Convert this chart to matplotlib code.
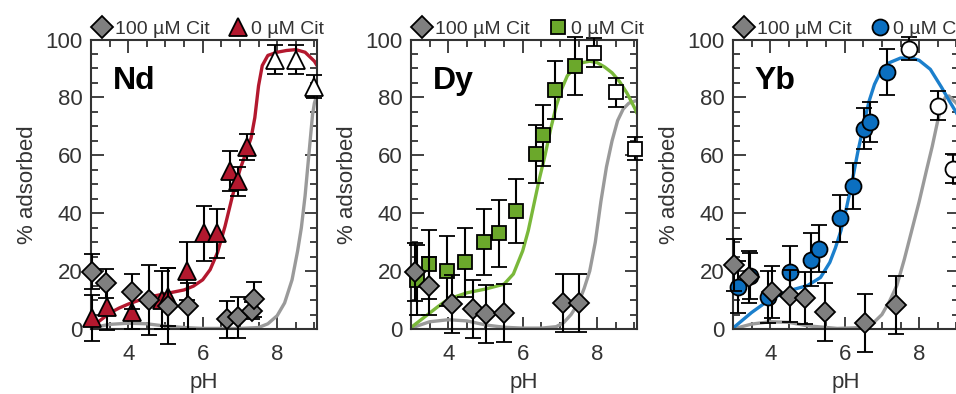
import matplotlib
matplotlib.use("Agg")
import matplotlib.pyplot as plt
from matplotlib.lines import Line2D
from matplotlib.ticker import MultipleLocator, FixedLocator

plt.rcParams['font.family'] = ['Liberation Sans', 'DejaVu Sans']

# ---------------- data ----------------
# Nd
nd_ph = [3.03, 3.42, 4.09, 4.92, 5.08, 5.57, 6.03, 6.38, 6.72, 6.94, 7.19]
nd_v = [3.7, 7.5, 6.0, 10.0, 11.1, 20.1, 33.0, 33.0, 54.6, 51.0, 63.0]
nd_err = [8, 8, 6, 10, 10, 10, 9.5, 8.6, 7, 5, 4.5]
nd_open_ph = [7.95, 8.5, 8.99]
nd_open_v = [93.0, 93.0, 83.7]
nd_open_err = [5, 5, 4]
nd_cit_ph = [3.02, 3.4, 4.09, 4.57, 5.06, 5.6, 6.65, 6.96, 7.32, 7.37]
nd_cit_v = [19.8, 15.8, 12.9, 10.0, 7.9, 7.9, 3.3, 4.0, 6.3, 10.3]
nd_cit_err = [6, 5, 6, 12, 13, 8, 6.5, 7, 3, 6]
nd_fit_ph = [3.0, 3.25, 3.5, 3.75, 4.0, 4.5, 5.0, 5.5, 5.75, 6.0, 6.2, 6.4, 6.6, 6.8, 7.0,
             7.15, 7.3, 7.4, 7.5, 7.6, 7.75, 8.0, 8.25, 8.5, 8.75, 9.0, 9.07]
nd_fit_v = [0.5, 3.0, 5.5, 7.2, 8.6, 10.9, 12.2, 13.5, 14.8, 17.0, 20.5, 26.5, 35.5, 46.0, 55.0,
            60.5, 66.0, 73.0, 84.0, 91.0, 94.5, 95.6, 96.2, 96.5, 95.6, 92.5, 91.0]
nd_cfit_ph = [3.0, 3.25, 3.5, 4.0, 4.5, 5.0, 5.5, 6.0, 7.0, 7.5, 7.75, 8.0, 8.2, 8.4, 8.55,
              8.65, 8.75, 8.85, 8.95, 9.0, 9.07]
nd_cfit_v = [0.0, 1.0, 1.6, 2.0, 1.8, 1.0, 0.5, 0.2, 0.2, 0.5, 1.8, 4.6, 9.0, 17.0, 27.0,
             35.0, 46.0, 60.0, 74.0, 78.0, 81.0]

# Dy
dy_ph = [3.17, 3.48, 3.98, 4.45, 4.97, 5.36, 5.81, 6.36, 6.54, 6.88, 7.4]
dy_v = [16.9, 22.3, 20.0, 23.0, 30.1, 33.0, 40.8, 60.6, 66.9, 82.6, 90.7]
dy_err = [12, 12, 12, 12, 11.5, 11.5, 11, 10, 10.5, 10, 10]
dy_open_ph = [7.92, 8.5, 9.01]
dy_open_v = [95.4, 81.8, 62.3]
dy_open_err = [5, 5, 4]
dy_cit_ph = [3.12, 3.48, 4.09, 4.66, 5.02, 5.51, 7.08, 7.52]
dy_cit_v = [19.8, 14.8, 8.6, 6.8, 5.1, 5.4, 8.9, 8.9]
dy_cit_err = [10, 10, 10, 10, 10, 10, 10, 10]
dy_fit_ph = [3.0, 3.25, 3.5, 3.75, 4.0, 4.5, 5.0, 5.5, 5.75, 6.0, 6.15, 6.3, 6.45, 6.6, 6.75,
             6.9, 7.05, 7.2, 7.4, 7.6, 7.8, 8.0, 8.2, 8.4, 8.6, 8.8, 9.0, 9.07]
dy_fit_v = [0.5, 3.0, 5.5, 8.0, 10.3, 12.5, 13.8, 15.5, 19.0, 27.0, 34.0, 43.0, 52.0, 60.0, 69.0,
            77.0, 83.0, 87.5, 90.3, 92.0, 92.5, 92.0, 90.5, 88.5, 85.5, 81.5, 76.5, 74.5]
dy_cfit_ph = [3.0, 3.5, 4.0, 4.5, 5.0, 5.5, 6.0, 6.5, 6.9, 7.1, 7.3, 7.5, 7.65, 7.8, 7.95,
              8.1, 8.25, 8.4, 8.55, 8.7, 8.85, 9.07]
dy_cfit_v = [0.3, 2.5, 3.2, 2.8, 1.4, 0.6, 0.3, 0.3, 0.8, 2.2, 5.0, 9.0, 14.0, 20.0, 30.0,
             44.0, 56.0, 65.0, 72.0, 76.0, 78.0, 79.0]

# Yb
yb_ph = [3.13, 3.46, 3.95, 4.54, 5.1, 5.32, 5.88, 6.22, 6.53, 6.69, 7.13]
yb_v = [14.4, 18.3, 11.1, 19.8, 24.0, 27.8, 38.2, 49.3, 69.2, 71.5, 88.7]
yb_err = [9, 8, 9, 9, 9, 8, 8, 8, 7, 7, 8]
yb_open_ph = [7.73, 8.5, 8.9]
yb_open_v = [96.8, 77.2, 55.4]
yb_open_err = [4, 5, 5]
yb_cit_ph = [3.02, 3.42, 4.05, 4.54, 4.94, 5.46, 6.55, 7.38]
yb_cit_v = [22.0, 18.0, 12.9, 11.4, 10.8, 6.0, 2.2, 8.3]
yb_cit_err = [9, 9, 9, 9, 9, 10, 10, 10]
yb_fit_ph = [3.0, 3.25, 3.5, 4.0, 4.5, 5.0, 5.35, 5.6, 5.75, 5.9, 6.05, 6.2, 6.35, 6.5, 6.65,
             6.8, 6.95, 7.2, 7.5, 7.8, 8.0, 8.3, 8.6, 8.8, 9.0, 9.1]
yb_fit_v = [0.3, 3.0, 5.7, 10.3, 13.2, 15.0, 17.8, 23.0, 28.0, 34.0, 42.0, 51.0, 61.0, 70.0, 78.5,
            84.5, 88.5, 92.0, 93.6, 93.6, 92.8, 89.7, 83.5, 79.0, 74.7, 72.0]
yb_cfit_ph = [3.0, 3.5, 4.0, 4.5, 5.0, 5.8, 6.5, 6.8, 7.0, 7.2, 7.4, 7.6, 7.8, 8.0, 8.2,
              8.35, 8.5, 8.6, 8.7, 8.8, 9.0, 9.1]
yb_cfit_v = [0.0, 1.7, 2.5, 2.3, 1.1, 0.2, 0.5, 2.5, 5.0, 9.5, 15.0, 24.0, 34.0, 44.0, 55.0,
             63.0, 72.0, 77.0, 80.0, 80.5, 78.0, 76.0]

panels = [
    dict(name='Nd', color='#B3182E', mcolor='#B3182E', marker='^', ms=13,
         ph=nd_ph, v=nd_v, err=nd_err, oph=nd_open_ph, ov=nd_open_v, oerr=nd_open_err,
         cph=nd_cit_ph, cv=nd_cit_v, cerr=nd_cit_err,
         fph=nd_fit_ph, fv=nd_fit_v, cfph=nd_cfit_ph, cfv=nd_cfit_v, left=91),
    dict(name='Dy', color='#7AB83A', mcolor='#6BA82B', marker='s', ms=10,
         ph=dy_ph, v=dy_v, err=dy_err, oph=dy_open_ph, ov=dy_open_v, oerr=dy_open_err,
         cph=dy_cit_ph, cv=dy_cit_v, cerr=dy_cit_err,
         fph=dy_fit_ph, fv=dy_fit_v, cfph=dy_cfit_ph, cfv=dy_cfit_v, left=411),
    dict(name='Yb', color='#1B7FCC', mcolor='#0B6FC0', marker='o', ms=11.5,
         ph=yb_ph, v=yb_v, err=yb_err, oph=yb_open_ph, ov=yb_open_v, oerr=yb_open_err,
         cph=yb_cit_ph, cv=yb_cit_v, cerr=yb_cit_err,
         fph=yb_fit_ph, fv=yb_fit_v, cfph=yb_cfit_ph, cfv=yb_cfit_v, left=733),
]

W, H = 956, 394
fig = plt.figure(figsize=(W / 100, H / 100), dpi=100)
spine_c = '#333333'
txt_c = '#333333'
grey_m = '#7F7F7F'
grey_l = '#9A9A9A'

for p in panels:
    ax = fig.add_axes([p['left'] / W, (H - 329) / H, 226 / W, 289.5 / H])
    ax.set_xlim(3, 9.07)
    ax.set_ylim(0, 100)
    # curves
    ax.plot(p['cfph'], p['cfv'], color=grey_l, lw=2.4, zorder=2, solid_capstyle='round')
    ax.plot(p['fph'], p['fv'], color=p['color'], lw=2.4, zorder=2, solid_capstyle='round')
    ekw = dict(ecolor='black', elinewidth=1.5, capsize=5.5, capthick=1.5, mec='black', mew=1.3,
               linestyle='none', clip_on=False, zorder=3)
    ax.errorbar(p['ph'], p['v'], yerr=p['err'], fmt=p['marker'], ms=p['ms'], mfc=p['mcolor'], **ekw)
    ax.errorbar(p['oph'], p['ov'], yerr=p['oerr'], fmt=p['marker'], ms=p['ms'], mfc='white', **ekw)
    ekw['zorder'] = 4
    ax.errorbar(p['cph'], p['cv'], yerr=p['cerr'], fmt='D', ms=10, mfc=grey_m, **ekw)

    for s in ax.spines.values():
        s.set_color(spine_c)
        s.set_linewidth(1.5)
    ax.xaxis.set_major_locator(FixedLocator([4, 6, 8]))
    ax.xaxis.set_minor_locator(MultipleLocator(0.5))
    ax.yaxis.set_major_locator(MultipleLocator(20))
    ax.yaxis.set_minor_locator(MultipleLocator(5))
    ax.tick_params(which='both', direction='in', top=True, right=True, color=spine_c,
                   labelcolor=txt_c, labelsize=16, width=1.3)
    ax.tick_params(which='major', length=9)
    ax.tick_params(which='minor', length=5)
    ax.tick_params(axis='x', pad=11)
    ax.tick_params(axis='y', pad=6)
    ax.set_xlabel('pH', fontsize=16, color=txt_c, labelpad=5)
    ax.set_ylabel('% adsorbed', fontsize=16, color=txt_c, labelpad=5)

    ax.text(0.095, 0.855, p['name'], transform=ax.transAxes, fontsize=23, fontweight='bold',
            va='center', ha='left', color='black', zorder=5)

    handles = [Line2D([], [], marker='D', ms=11, mfc=grey_m, mec='black', mew=1.3, ls='none'),
               Line2D([], [], marker=p['marker'], ms=p['ms'], mfc=p['mcolor'], mec='black', mew=1.3, ls='none')]
    leg = ax.legend(handles, ['100 µM Cit', '0 µM Cit'], loc='lower center', bbox_to_anchor=(0.52, 1.0),
                    ncol=2, frameon=False, handlelength=0.9, handletextpad=0.2, columnspacing=1.0,
                    borderaxespad=0.1, borderpad=0, fontsize=14)
    for t in leg.get_texts():
        t.set_color(txt_c)

fig.savefig('out.png', dpi=100)
